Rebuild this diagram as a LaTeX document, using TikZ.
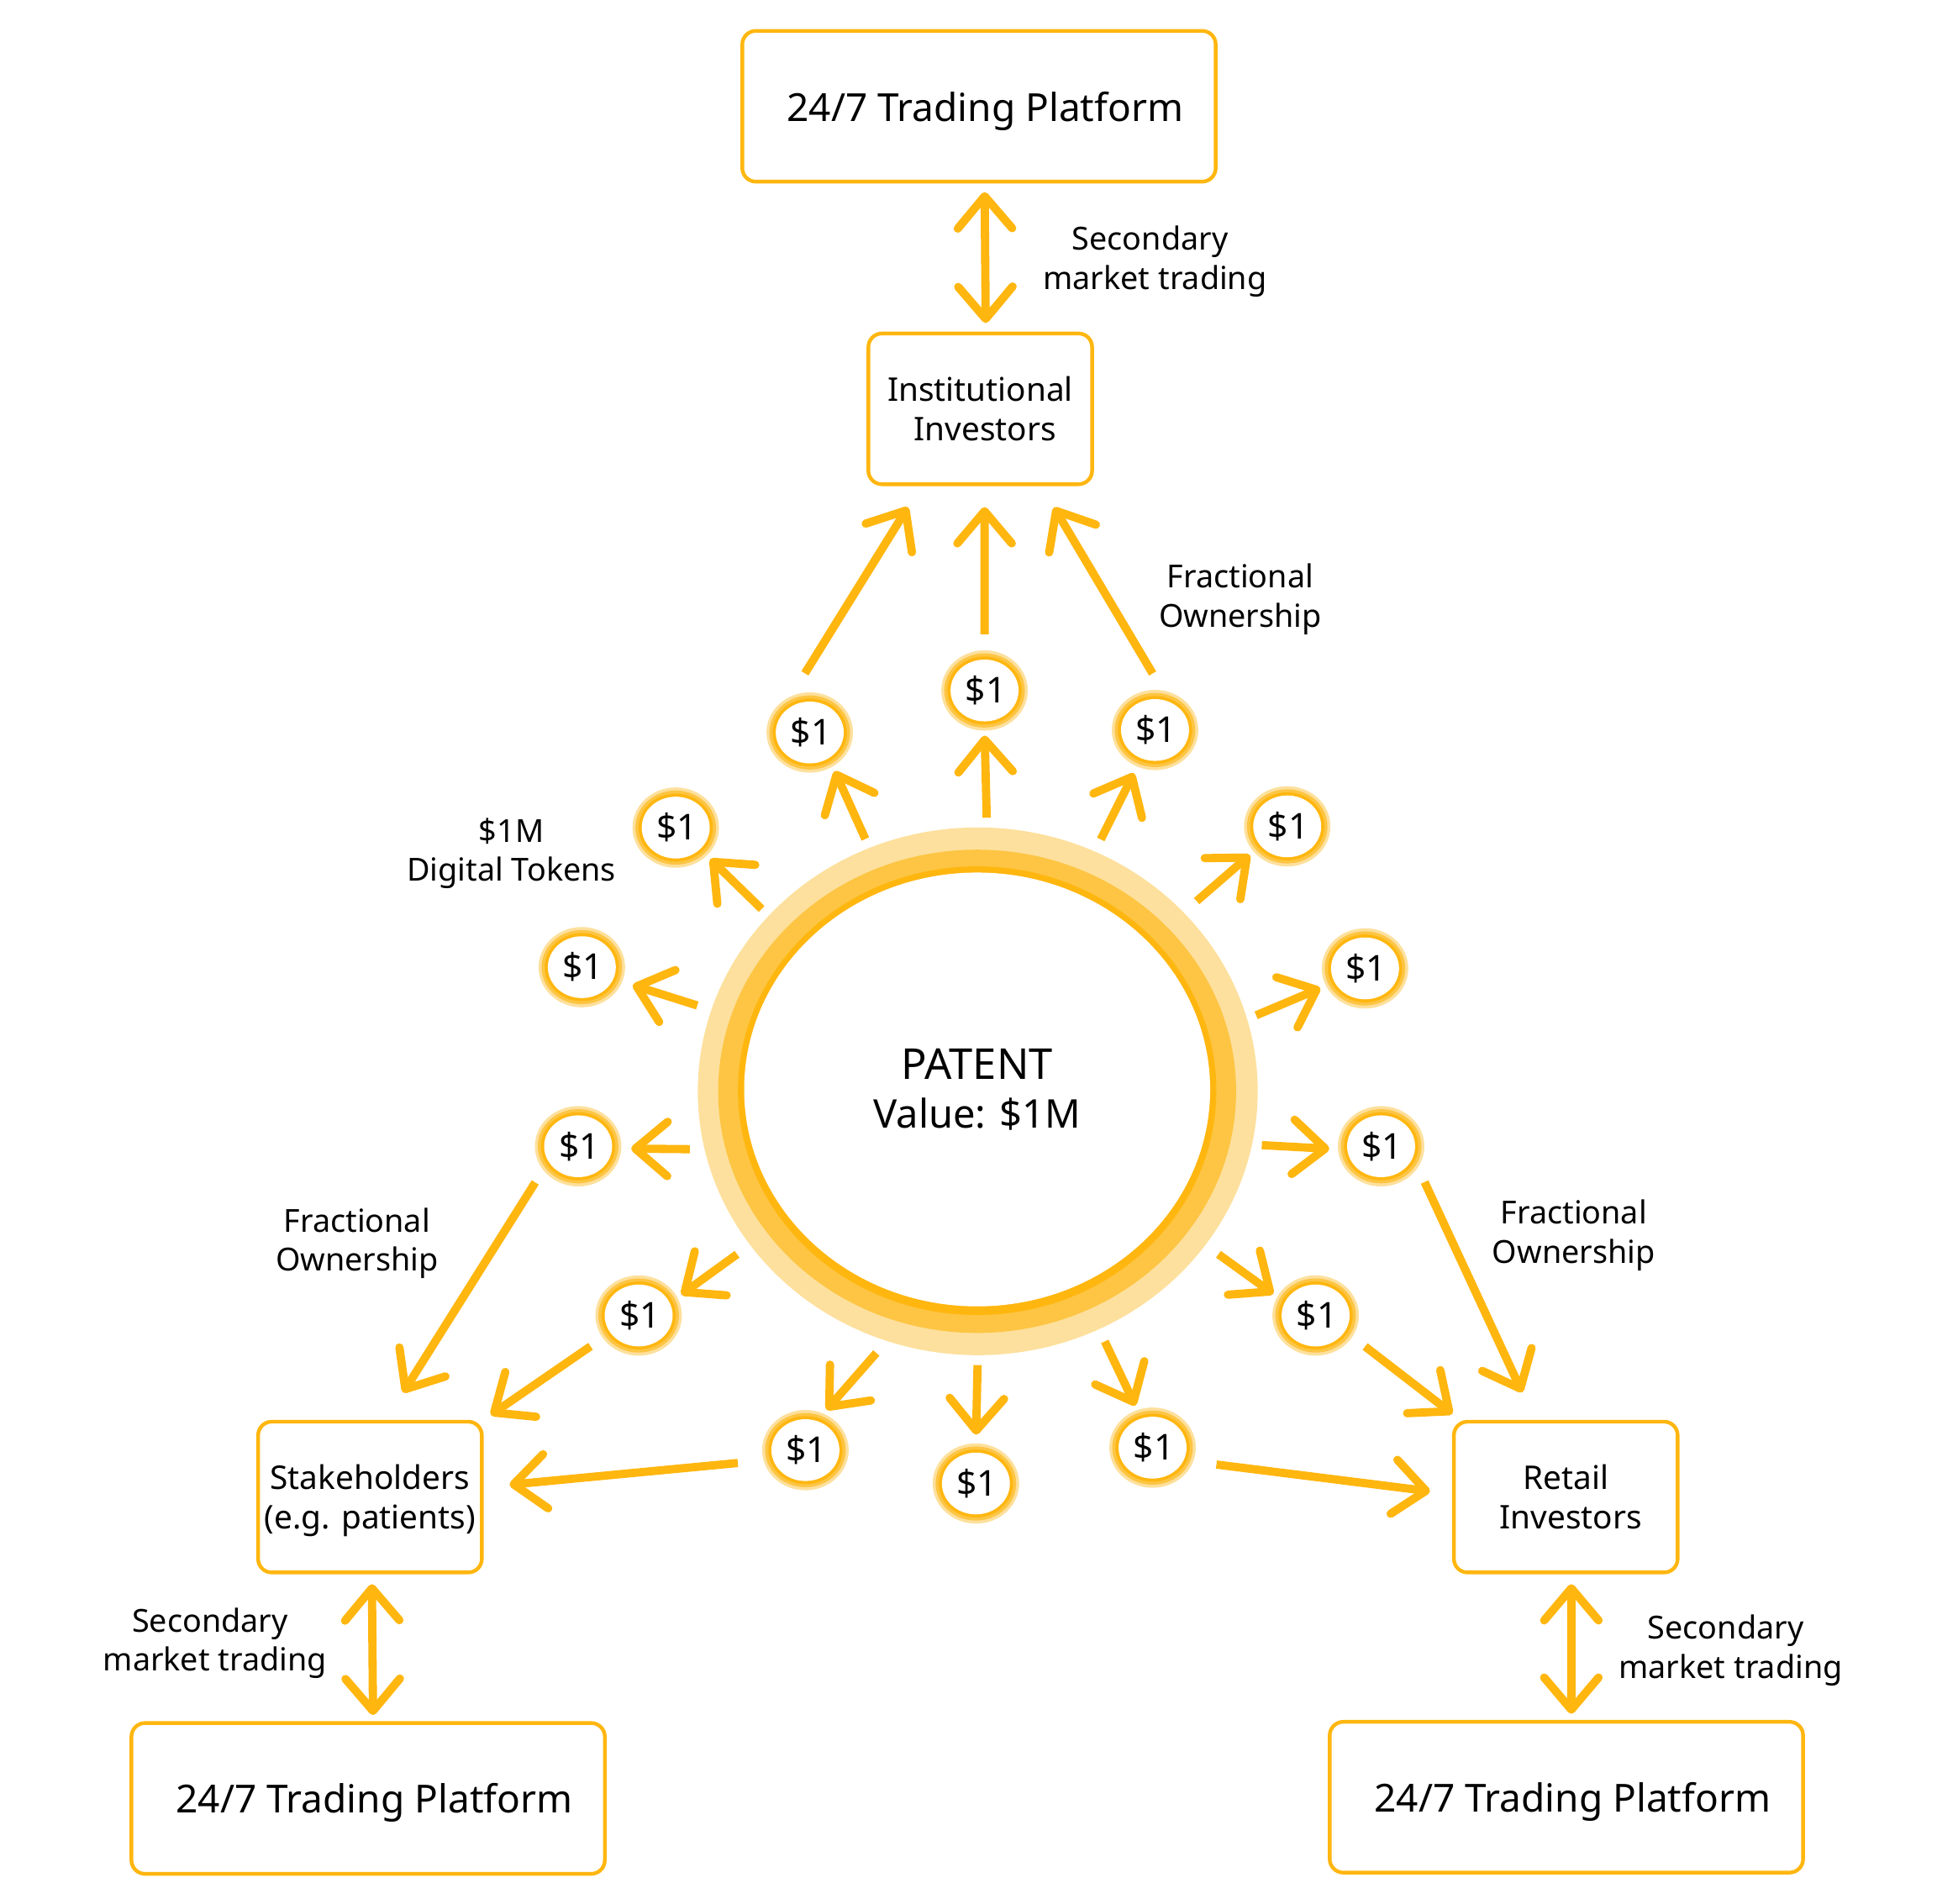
\documentclass[tikz,border=0pt]{standalone}
\usepackage{fontspec}
\setmainfont{Noto Sans}
\usetikzlibrary{arrows.meta,shapes.geometric}
\definecolor{amberD}{HTML}{FFB60F}
\definecolor{amberM}{HTML}{FDC543}
\definecolor{amberL}{HTML}{FDE09D}
\tikzset{
  flow/.style={->,color=amberD,line width=1.9pt},
  trade/.style={<->,color=amberD,line width=1.9pt},
  box/.style={draw=amberD,line width=0.85pt,rounded corners=0.11cm,inner sep=0pt,align=center,minimum height=1.22cm},
  platform/.style={box,minimum width=3.83cm,text depth=0pt,font=\fontsize{8.9}{11}\selectfont},
  party/.style={box,minimum width=1.81cm,font=\fontsize{7.5}{9.1}\selectfont},
  coin/.style={ellipse,inner sep=0pt,outer sep=0pt,minimum width=0.70cm,minimum height=0.65cm,
    font=\fontsize{8.2}{9}\selectfont,fill=amberL,
    path picture={
      \fill[amberM] (path picture bounding box.center) ellipse [x radius=0.326cm,y radius=0.30cm];
      \fill[amberD] (path picture bounding box.center) ellipse [x radius=0.30cm,y radius=0.275cm];
      \fill[white] (path picture bounding box.center) ellipse [x radius=0.275cm,y radius=0.25cm];
    }},
  ring/.style={ellipse,inner sep=0pt,outer sep=0pt},
  note/.style={align=center,inner sep=0pt,font=\fontsize{7.3}{9}\selectfont}
}
\begin{document}
\begin{tikzpicture}[x=0.01cm,y=-0.01cm,>={Straight Barb[round,length=0.26cm,width=0.44cm]}]
\useasboundingbox (0,0) rectangle (1568,1541);
% ---------- centre: patent ----------
\node[ring,fill=amberL,minimum width=4.53cm,minimum height=4.27cm] (patentL) at (791.5,883.5) {};
\node[ring,fill=amberM,minimum width=4.19cm,minimum height=3.91cm] (patentM) at (791,883.5) {};
\node[ring,fill=amberD,minimum width=3.87cm,minimum height=3.63cm] (patentD) at (791,883) {};
\node[ring,fill=white,minimum width=3.77cm,minimum height=3.51cm,align=center,font=\fontsize{9.1}{11.2}\selectfont] (patent) at (791,882) {{\fontsize{9.8}{11.2}\selectfont PATENT}\\Value: \$1M};
% ---------- boxes ----------
\node[platform] (platT) at (792.5,86) {\hspace*{0.1cm}24/7 Trading Platform};
\node[platform] (platL) at (298,1456) {\hspace*{0.1cm}24/7 Trading Platform};
\node[platform] (platR) at (1268,1455) {\hspace*{0.1cm}24/7 Trading Platform};
\node[party] (inst) at (793.5,331) {Institutional\\\hspace*{0.08cm}Investors};
\node[party] (stake) at (299.5,1212) {Stakeholders\\\raisebox{0pt}[\height][0pt]{(e.g. patients)}};
\node[party] (retail) at (1267.5,1212) {Retail\\\hspace*{0.08cm}Investors};
% ---------- tokens, each with its arrow from the patent ----------
\foreach \n/\cx/\cy/\ra/\ca/\sa/\sb in {
  1/797/559/88.6/-90/0.08/0.04, 2/655.5/593/114.5/-56/0.08/0.04, 3/935/591/64/-116/0.11/0.06,
  4/1042/669/41.4/-143.8/0.14/0.04, 5/1105/784/15.8/-156.8/0.08/0.05, 6/1118/928/-11/-176/0.08/0.07,
  7/1065/1065/-34.9/154.3/0.13/0.04, 8/933/1172/-63.6/112.5/0.11/0.04, 9/790/1201/-90.4/90/0.08/0.07,
  10/652/1174/-110.7/64/0.13/0.04, 11/517/1065/-146.8/25.7/0.13/0.04, 12/468/928/-168.4/-3/0.12/0.08,
  13/471/783/163.2/-20/0.12/0.09, 14/547/670/140/-42.8/0.08/0.04}{
  \node[coin] (coin\n) at (\cx,\cy) {\hspace*{0.02cm}\$1};
  \draw[flow,shorten <=\sa cm,shorten >=\sb cm] (patentL.\ra) -- (coin\n.\ca);
}
% ---------- tokens to holders ----------
\draw[flow,shorten <=0.22cm,shorten >=0.2cm] (coin2.118) -- ([xshift=-0.48cm]inst.south);
\draw[flow,shorten <=0.13cm,shorten >=0.17cm] (coin1.90) -- ([xshift=0.035cm]inst.south);
\draw[flow,shorten <=0.16cm,shorten >=0.2cm] (coin3.79.4) -- ([xshift=0.495cm]inst.south);
\draw[flow,shorten <=0.12cm,shorten >=0.26cm] (coin12.-146.8) -- ([xshift=0.13cm]stake.north);
\draw[flow,shorten <=0.12cm,shorten >=0.07cm] (coin11.-148) -- (stake.north east);
\draw[flow,shorten <=0.21cm,shorten >=0.21cm] (coin10.-166.8) -- ([yshift=0.08cm]stake.east);
\draw[flow,shorten <=0.19cm,shorten >=0.18cm] (coin8.-19.5) -- ([yshift=0.024cm]retail.west);
\draw[flow,shorten <=0.13cm,shorten >=0.08cm] (coin7.-30.2) -- ([xshift=0.066cm]retail.north west);
\draw[flow,shorten <=0.13cm,shorten >=0.245cm] (coin6.-30.2) -- ([xshift=-0.25cm]retail.north);
% ---------- secondary market ----------
\draw[trade,shorten <=0.07cm,shorten >=0.07cm] ([xshift=0.045cm]platT.south) -- ([xshift=0.045cm]inst.north);
\draw[trade,shorten <=0.08cm,shorten >=0.05cm] ([xshift=0.015cm]stake.south) -- ([xshift=0.04cm]platL.north);
\draw[trade,shorten <=0.08cm,shorten >=0.05cm] ([xshift=0.045cm]retail.south) -- ([xshift=0.04cm]platR.north);
% ---------- labels ----------
\node[note] (tradeT) at (935,211.5) {\hspace*{-0.08cm}Secondary\\market trading};
\node[note] (tradeL) at (174,1330.5) {\hspace*{-0.08cm}Secondary\\market trading};
\node[note] (tradeR) at (1401,1336) {\hspace*{-0.08cm}Secondary\\market trading};
\node[note] (ownT) at (1004,485) {Fractional\\Ownership};
\node[note] (ownL) at (289,1006.5) {Fractional\\Ownership};
\node[note] (ownR) at (1274,1000) {Fractional\\Ownership};
\node[note] (tokens) at (414,691) {\$1M\\Digital Tokens};
\end{tikzpicture}
\end{document}
